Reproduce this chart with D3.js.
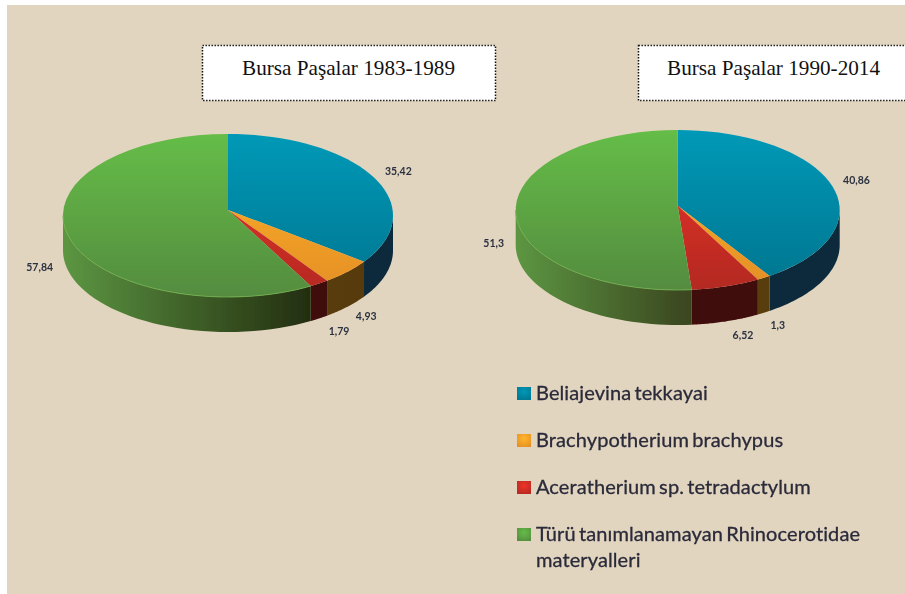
<!DOCTYPE html>
<html><head><meta charset="utf-8">
<script src="https://cdn.jsdelivr.net/npm/d3@7"></script>
<style>html,body{margin:0;padding:0;background:#fff;overflow:hidden}svg{display:block}</style>
</head><body><div id="c"></div>
<script>
const categories = ["Beliajevina tekkayai","Brachypotherium brachypus","Aceratherium sp. tetradactylum","Türü tanımlanamayan Rhinocerotidae materyalleri"];
const values1983 = [35.42, 4.93, 1.79, 57.84];
const values1990 = [40.86, 1.3, 6.52, 51.3];
const titles = ["Bursa Paşalar 1983-1989", "Bursa Paşalar 1990-2014"];
const legendLines = [["Beliajevina tekkayai"],["Brachypotherium brachypus"],["Aceratherium sp. tetradactylum"],["Türü tanımlanamayan Rhinocerotidae","materyalleri"]];

const topHi = ["#0099b7","#ffb62a","#ef3329","#65bd47"];
const topLo = ["#00758f","#e48e26","#b32a22","#548c40"];
const sideA = ["#0a2c40","#5f420c","#430808","#5c9642"];
const sideB = ["#0a2a3c","#573a0a","#3f0707","#232e10"];

const W = 905, H = 594;
const svg = d3.select("#c").append("svg").attr("width",W).attr("height",H);
const defs = svg.append("defs");
defs.append("filter").attr("id","soft").attr("x","-5%").attr("y","-5%").attr("width","110%").attr("height","110%")
  .append("feGaussianBlur").attr("stdDeviation",0.55);
defs.append("filter").attr("id","softT").attr("x","-5%").attr("y","-20%").attr("width","110%").attr("height","140%")
  .append("feGaussianBlur").attr("stdDeviation",0.4);

svg.append("rect").attr("x",7).attr("y",5).attr("width",W-7).attr("height",H-5).attr("fill","#e1d5c0");

function drawPie(values, g, idp){
  const {cx,cy,rx,ry,depth,apexY,offs,sideBEnd} = g;
  const arcs = d3.pie().sort(null).startAngle(0).endAngle(2*Math.PI)(values);
  // perspective: a ray from the off-centre pivot at pie angle a meets the rim at ellipse angle e
  const k = (apexY-cy)/ry;
  const rim = a => {
    const dx = Math.sin(a), dy = -Math.cos(a);
    const b = k*dy, t = -b + Math.sqrt(b*b - k*k + 1);
    const e = Math.atan2(t*dx, -(k+t*dy));
    return e < -1e-9 ? e + 2*Math.PI : (a >= 2*Math.PI-1e-9 ? 2*Math.PI : e);
  };
  const px = e => cx + rx*Math.sin(e), py = e => cy - ry*Math.cos(e);
  const line = d3.line();
  const sample = (a0,a1) => d3.range(0,41).map(i => a0+(a1-a0)*i/40);
  const root = svg.append("g").attr("filter","url(#soft)");

  arcs.forEach((d,i)=>{
    const e0 = Math.max(rim(d.startAngle),Math.PI/2), e1 = Math.min(rim(d.endAngle),3*Math.PI/2);
    if(e1<=e0) return;
    const id = idp+"s"+i;
    const lg = defs.append("linearGradient").attr("id",id).attr("gradientUnits","userSpaceOnUse")
      .attr("x1",cx-rx).attr("x2", i===3 ? sideBEnd : cx+rx).attr("y1",0).attr("y2",0);
    lg.append("stop").attr("offset",0).attr("stop-color",sideA[i]);
    lg.append("stop").attr("offset",1).attr("stop-color", i===3 ? g.greenEnd : sideB[i]);
    const top = sample(e0,e1).map(a=>[px(a),py(a)]);
    const bot = sample(e1,e0).map(a=>[px(a),py(a)+depth]);
    root.append("path").attr("d",line(top.concat(bot))+"Z").attr("fill",`url(#${id})`);
  });
  arcs.forEach((d,i)=>{
    const id = idp+"t"+i;
    const lg = defs.append("linearGradient").attr("id",id).attr("gradientUnits","userSpaceOnUse")
      .attr("x1",0).attr("x2",0).attr("y1",cy-ry).attr("y2",cy+ry);
    lg.append("stop").attr("offset",0).attr("stop-color",topHi[i]);
    lg.append("stop").attr("offset",1).attr("stop-color",topLo[i]);
    const pts = [[cx,apexY]].concat(sample(rim(d.startAngle),rim(d.endAngle)).map(a=>[px(a),py(a)]));
    root.append("path").attr("d",line(pts)+"Z").attr("fill",`url(#${id})`);
  });
  // pale rim highlight on the green slice's front edge
  const gs = arcs[3];
  root.append("path").attr("fill","none").attr("stroke","#6fae4c").attr("stroke-width",.9)
    .attr("d",line(sample(rim(gs.startAngle),3*Math.PI/2).map(a=>[px(a),py(a)])));

  arcs.forEach((d,i)=>{
    const m = rim((d.startAngle+d.endAngle)/2), front = Math.cos(m)<0;
    svg.append("text").attr("x",px(m)+offs[i][0]).attr("y",py(m)+(front?depth:0)+offs[i][1])
      .attr("text-anchor","middle").attr("font-family","Lato").attr("font-size",10.5).attr("font-weight",700)
      .attr("fill","#2c3140").attr("filter","url(#softT)")
      .text(String(d.value).replace(".",","));
  });
}

drawPie(values1983,{cx:228,cy:215.5,rx:165,ry:81.5,depth:35,apexY:210,sideBEnd:310,greenEnd:"#232e10",
  offs:[[27,0],[19,13],[20,17],[-26,6]]},"a");
drawPie(values1990,{cx:677.7,cy:210,rx:162,ry:80,depth:35,apexY:205.7,sideBEnd:691,greenEnd:"#3b451f",
  offs:[[26,1],[14,16],[17,18],[-22,38]]},"b");

[[202,45,293,55],[638,45,280,55]].forEach(b=>{
  svg.append("rect").attr("x",b[0]+.5).attr("y",b[1]+.5).attr("width",b[2]).attr("height",b[3])
    .attr("fill","#fff").attr("stroke","#111").attr("stroke-width",1.5).attr("stroke-dasharray","1.4 1.6");
});
titles.forEach((t,i)=>{
  svg.append("text").attr("x",i?667:242).attr("y",75).attr("font-family","Liberation Serif")
    .attr("font-size",21.2).attr("fill","#111").text(t);
});

const legendY = d3.scaleOrdinal().domain(categories).range([400,447,494,541]);
categories.forEach((c,i)=>{
  const y = legendY(c);
  const id="lg"+i;
  const lg=defs.append("radialGradient").attr("id",id).attr("cy",.35).attr("r",.75);
  lg.append("stop").attr("offset",0).attr("stop-color",topHi[i]);
  lg.append("stop").attr("offset",1).attr("stop-color",topLo[i]);
  svg.append("rect").attr("x",517).attr("y",y-13).attr("width",14).attr("height",13).attr("fill",`url(#${id})`)
    .attr("filter","url(#softT)");
  legendLines[i].forEach((ln,j)=>{
    svg.append("text").attr("x",536).attr("y",y+j*26).attr("font-family","Lato").attr("font-size",20)
      .attr("word-spacing",-2).attr("letter-spacing",.1)
      .attr("fill","#2a2a3a").attr("stroke","#2a2a3a").attr("stroke-width",.3).attr("filter","url(#softT)").text(ln);
  });
});
</script></body></html>
